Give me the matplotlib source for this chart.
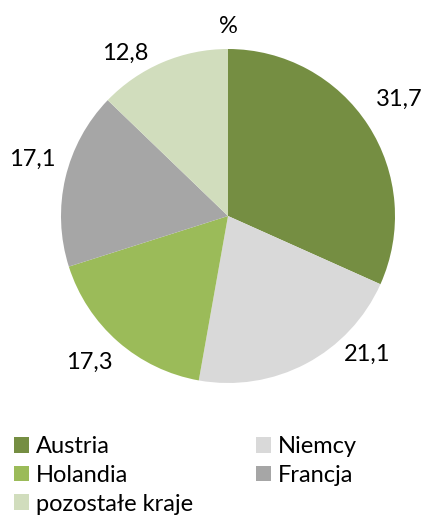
import numpy as np
import matplotlib
matplotlib.use("Agg")
import matplotlib.pyplot as plt
from matplotlib.patches import Patch

plt.rcParams['font.family'] = ['Lato', 'DejaVu Sans']

# dane
countries = ['Austria', 'Niemcy', 'Holandia', 'Francja', 'pozostałe kraje']
shares = [31.7, 21.1, 17.3, 17.1, 12.8]
colors = ['#758E42', '#D9D9D9', '#9BBB59', '#A6A6A6', '#D1DDBD']

# pozycje etykiet (kąt w stopniach, odległość w promieniach, linia bazowa tekstu)
label_pos = [(32.7, 1.22), (-46.1, 1.204), (-132.1, 1.235), (165.7, 1.209), (123.3, 1.118)]

W, H = 425, 517
FS = 17
fig = plt.figure(figsize=(W / 100, H / 100), dpi=100)
cx, cy, r = 228, 216, 167
ax = fig.add_axes([(cx - r) / W, (H - cy - r) / H, 2 * r / W, 2 * r / H])

wedges, _ = ax.pie(shares, colors=colors, startangle=90, counterclock=False,
                   radius=1, wedgeprops=dict(linewidth=0))
ax.set_xlim(-1, 1)
ax.set_ylim(-1, 1)
ax.set_aspect('equal')
ax.axis('off')

for val, (ang, dist) in zip(shares, label_pos):
    t = np.deg2rad(ang)
    ax.text(dist * np.cos(t), dist * np.sin(t), f"{val:.1f}".replace('.', ','),
            ha='center', va='baseline', fontsize=FS, color='#000000', clip_on=False)

ax.text(0, 1.096, '%', ha='center', va='baseline', fontsize=FS, clip_on=False)

# legenda: kolejność wierszami
order = [0, 2, 4, 1, 3]
handles = [Patch(facecolor=colors[i], edgecolor='none', label=countries[i]) for i in order]
fig.legend(handles=handles, ncol=2, loc='upper left', bbox_to_anchor=(14 / W, 1 - 436 / H),
           frameon=False, fontsize=FS, handlelength=0.64, handleheight=0.64,
           handletextpad=0.3, columnspacing=2.65, labelspacing=0.33,
           borderpad=0, borderaxespad=0)

fig.savefig('out.png', dpi=100)
